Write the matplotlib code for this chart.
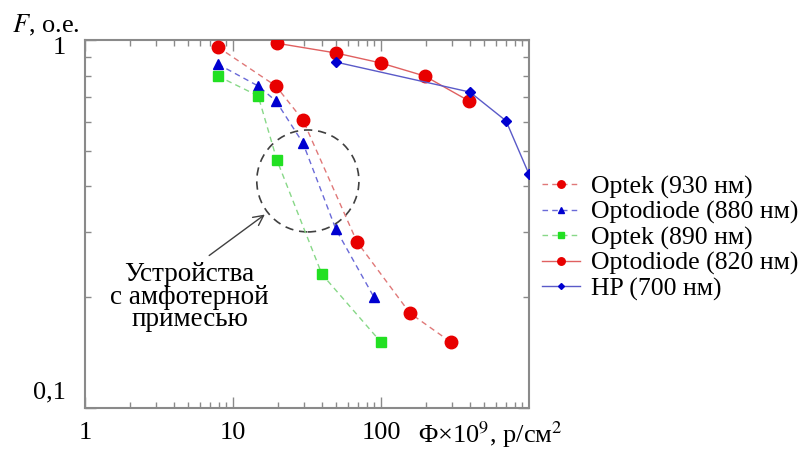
import matplotlib
matplotlib.use("Agg")
import matplotlib.pyplot as plt
from matplotlib.patches import Ellipse
from matplotlib.ticker import LogLocator, NullFormatter, FixedLocator, FixedFormatter
from matplotlib.transforms import ScaledTranslation

# --- data (fluence x1e9 p/cm2, relative output F) ---
optek930_x = [7.9, 19.5, 29.7, 68.8, 157, 297]
optek930_y = [0.957, 0.75, 0.606, 0.283, 0.181, 0.151]

optodiode880_x = [7.9, 14.8, 19.5, 29.7, 49.6, 89.7]
optodiode880_y = [0.86, 0.75, 0.683, 0.525, 0.306, 0.20]

optek890_x = [7.9, 14.8, 19.8, 39.9, 100]
optek890_y = [0.798, 0.705, 0.472, 0.231, 0.151]

optodiode820_x = [19.8, 49.6, 100, 198, 393]
optodiode820_y = [0.98, 0.922, 0.866, 0.798, 0.683]

hp700_x = [49.6, 399, 700, 1000]
hp700_y = [0.871, 0.722, 0.603, 0.432]

SERIF = ["Liberation Serif", "DejaVu Serif"]
plt.rcParams.update({
    "font.family": SERIF,
    "mathtext.fontset": "stix",
    "font.size": 18,
})

RED, BLUE, GREEN = "#e80000", "#0000d0", "#22e022"
AXC = "#8a8a8a"

fig = plt.figure(figsize=(8.04, 4.5), dpi=100)
ax = fig.add_axes([0.1057, 0.0933, 0.5522, 0.8178])

ax.plot(optek930_x, optek930_y, ls=(0, (4, 3)), lw=1.0, color="#e07878",
        marker="o", ms=9, mfc=RED, mec=RED, label="Optek (930 нм)", zorder=3)
ax.plot(optodiode880_x, optodiode880_y, ls=(0, (4, 3)), lw=1.0, color="#6a6ad8",
        marker="^", ms=7, mfc=BLUE, mec=BLUE, label="Optodiode (880 нм)", zorder=3)
ax.plot(optek890_x, optek890_y, ls=(0, (4, 3)), lw=1.0, color="#88d888",
        marker="s", ms=7.5, mfc=GREEN, mec=GREEN, label="Optek (890 нм)", zorder=3)
ax.plot(optodiode820_x, optodiode820_y, ls="-", lw=1.0, color="#e06060",
        marker="o", ms=9, mfc=RED, mec=RED, label="Optodiode (820 нм)", zorder=3)
ax.plot(hp700_x, hp700_y, ls="-", lw=1.0, color="#5a5ac8",
        marker="D", ms=5, mfc=BLUE, mec=BLUE, label="HP (700 нм)", zorder=3)

ax.set_xscale("log")
ax.set_yscale("log")
ax.set_xlim(1, 1000)
ax.set_ylim(0.1, 1)

ax.xaxis.set_major_locator(FixedLocator([1, 10, 100]))
ax.xaxis.set_major_formatter(FixedFormatter(["1", "10", "100"]))
ax.xaxis.set_minor_locator(LogLocator(base=10, subs=range(2, 10)))
ax.xaxis.set_minor_formatter(NullFormatter())
ax.yaxis.set_major_locator(FixedLocator([0.1, 1]))
ax.yaxis.set_major_formatter(FixedFormatter(["0,1", "1"]))
ax.yaxis.set_minor_locator(LogLocator(base=10, subs=range(2, 10)))
ax.yaxis.set_minor_formatter(NullFormatter())

ax.tick_params(which="both", direction="in", top=True, right=True, color=AXC, width=1.0,
               labelsize=19)
ax.tick_params(which="major", length=8)
ax.tick_params(which="minor", length=4.5)
ax.tick_params(axis="x", which="major", pad=10)
ax.tick_params(axis="y", which="major", pad=14)
for sp in ax.spines.values():
    sp.set_color(AXC)
    sp.set_linewidth(1.5)

# y labels sit a little inside the axis in the original
ylabs = ax.get_yticklabels()
ylabs[0].set_transform(ylabs[0].get_transform() + ScaledTranslation(0, 18 / 100, fig.dpi_scale_trans))
ylabs[1].set_transform(ylabs[1].get_transform() + ScaledTranslation(0, -5 / 100, fig.dpi_scale_trans))

fig.text(12 / 804, 1 - 25 / 450, "$F$, о.е.", ha="left", va="center", fontsize=19)
fig.text(418 / 804, 1 - 435 / 450, "Φ×10$^9$, р/см$^2$", ha="left", va="center", fontsize=19)

# dashed circle marking the amphoteric-doped devices
ax.add_patch(Ellipse((0.502, 0.617), 0.23, 0.277, transform=ax.transAxes, fill=False,
                     ls=(0, (5, 3.5)), lw=1.2, color="#404040", zorder=2))
ax.annotate("", xy=(17.0, 0.339), xytext=(6.67, 0.257),
            arrowprops=dict(arrowstyle="->", color="#404040", lw=1.0))
ax.text(5.1, 0.2, "Устройства\nс амфотерной\nпримесью", ha="center", va="center",
        fontsize=19.5, linespacing=0.86)

leg = fig.legend(loc="upper left", bbox_to_anchor=(0.674, 0.61), frameon=False,
                 fontsize=18.5, handlelength=1.5, handletextpad=0.4, labelspacing=0.08,
                 borderpad=0, borderaxespad=0, markerscale=0.6)

fig.savefig("out.png", dpi=100)
